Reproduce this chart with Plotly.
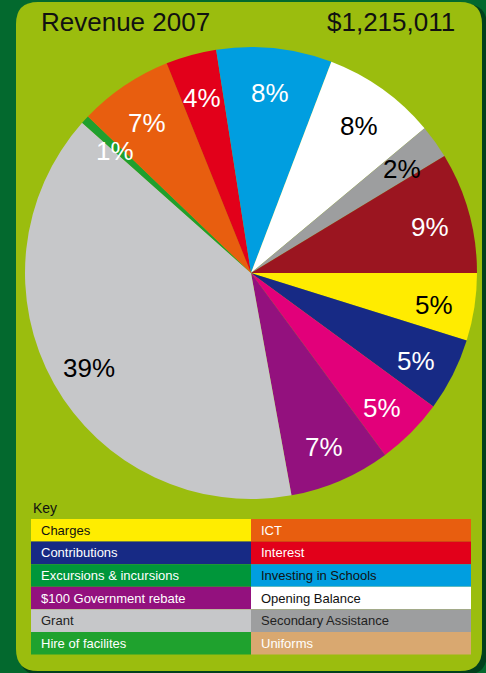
import math
import plotly.graph_objects as go

# ---- data ----
categories = ["Charges", "Contributions", "Excursions & incursions", "$100 Government rebate",
              "Grant", "Hire of facilites", "ICT", "Interest", "Investing in Schools",
              "Opening Balance", "Secondary Assistance", "Uniforms"]
shares = [4.8, 5.2, 4.8, 7.2, 39.2, 0.6, 6.7, 3.6, 8.2, 8.1, 2.4, 8.6]
slice_colors = ["#FFEC00", "#172A85", "#E2007A", "#93117E", "#C6C7C9", "#1E9F2E",
                "#E85E0F", "#E2001A", "#009EE0", "#FFFFFF", "#9D9E9F", "#9B1520"]
slice_text_colors = ["black", "white", "white", "white", "black", "white",
                     "white", "white", "white", "black", "black", "white"]
key_colors = ["#FFED00", "#172A85", "#00963A", "#93117E", "#C6C7C9", "#1FA22E",
              "#E85E0F", "#E2001A", "#009EE0", "#FFFFFF", "#9D9E9F", "#D9A870"]
key_text_colors = ["#111111", "white", "white", "white", "#222222", "white",
                   "white", "white", "#111111", "#111111", "#222222", "white"]
title_left = "Revenue 2007"
title_right = "$1,215,011"

W, H = 486, 673
FONT = "Liberation Sans, Arial, sans-serif"


def px(x):
    return x / W


def py(y):
    return 1 - y / H


def rounded(x0, y0, x1, y1, r):
    return (f"M {px(x0+r)},{py(y0)} L {px(x1-r)},{py(y0)} Q {px(x1)},{py(y0)} {px(x1)},{py(y0+r)} "
            f"L {px(x1)},{py(y1-r)} Q {px(x1)},{py(y1)} {px(x1-r)},{py(y1)} "
            f"L {px(x0+r)},{py(y1)} Q {px(x0)},{py(y1)} {px(x0)},{py(y1-r)} "
            f"L {px(x0)},{py(y0+r)} Q {px(x0)},{py(y0)} {px(x0+r)},{py(y0)} Z")


fig = go.Figure()

# panel shadow + panel background (rounded rectangles)
fig.add_shape(type="path", path=rounded(19, 4, 487, 675, 22), xref="paper", yref="paper",
              fillcolor="#01401C", line=dict(width=0), layer="below")
fig.add_shape(type="path", path=rounded(16, 2, 482, 671, 22), xref="paper", yref="paper",
              fillcolor="#9BBD0E", line=dict(width=0), layer="below")

# pie
cx, cy, R = 251, 273, 226
fig.add_trace(go.Pie(
    labels=categories, values=shares, sort=False, direction="clockwise", rotation=90,
    marker=dict(colors=slice_colors, line=dict(width=0)),
    textinfo="none", showlegend=False, hoverinfo="label+percent",
    domain=dict(x=[px(cx - R), px(cx + R)], y=[py(cy + R), py(cy - R)]),
))

# percentage labels placed at the middle angle of each slice, near the rim
total = sum(shares)
cum = 0.0
for v, tc in zip(shares, slice_text_colors):
    mid = (cum + v / 2) / total * 2 * math.pi  # clockwise from 3 o'clock
    cum += v
    lr = 0.82 * R
    lx = cx + lr * math.cos(mid)
    ly = cy + 4 + lr * math.sin(mid)
    fig.add_annotation(text=f"{round(v / total * 100):d}%", x=px(lx), y=py(ly),
                       xref="paper", yref="paper", showarrow=False,
                       xanchor="center", yanchor="middle",
                       font=dict(family=FONT, size=26, color=tc))

# key table
kx0, kx1, kmid = 31, 471, 251
ky0, ky1 = 519, 654.5
nrows = 6
rh = (ky1 - ky0) / nrows
for i, (name, fc, tc) in enumerate(zip(categories, key_colors, key_text_colors)):
    col, row = divmod(i, nrows)
    left = kx0 if col == 0 else kmid
    right = kmid if col == 0 else kx1
    top = ky0 + row * rh
    fig.add_shape(type="rect", xref="paper", yref="paper",
                  x0=px(left), x1=px(right), y0=py(top + rh), y1=py(top),
                  fillcolor=fc, line=dict(width=0), layer="above")
    fig.add_annotation(text=name, x=px(left + 8), y=py(top + rh / 2), xref="paper", yref="paper",
                       xanchor="left", yanchor="middle", showarrow=False,
                       font=dict(family=FONT, size=13, color=tc))

fig.add_annotation(text="Key", x=px(31), y=py(508), xref="paper", yref="paper",
                   xanchor="left", yanchor="middle", showarrow=False,
                   font=dict(family=FONT, size=14, color="#111111"))
fig.add_annotation(text=title_left, x=px(39), y=py(22), xref="paper", yref="paper",
                   xanchor="left", yanchor="middle", showarrow=False,
                   font=dict(family=FONT, size=26, color="#111111"))
fig.add_annotation(text=title_right, x=px(457), y=py(22), xref="paper", yref="paper",
                   xanchor="right", yanchor="middle", showarrow=False,
                   font=dict(family=FONT, size=26, color="#111111"))

fig.update_layout(width=W, height=H, margin=dict(l=0, r=0, t=0, b=0),
                  paper_bgcolor="#03692E", plot_bgcolor="#03692E")

fig.write_html("out.html", config={"displayModeBar": False},
               post_script="document.body.style.margin='0';document.body.style.overflow='hidden';")
